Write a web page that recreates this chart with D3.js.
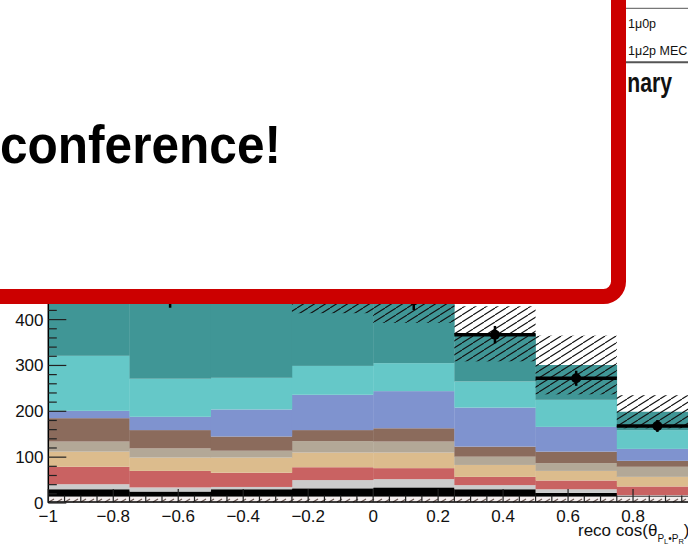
<!DOCTYPE html>
<html><head><meta charset="utf-8">
<script src="https://cdn.jsdelivr.net/npm/d3@7"></script>
<style>html,body{margin:0;padding:0;background:#fff;overflow:hidden}svg{display:block}</style>
</head><body>
<svg id="c" width="688" height="546"></svg>
<script>
// ---- data ----
const binEdges = [-1, -0.75, -0.5, -0.25, 0, 0.25, 0.5, 0.75, 1];
const seriesNames = ["dirt", "cosmic", "other", "1μ1p CCQE", "1μ1p MEC", "1μ1p RES", "1μ1p other", "1μ0p", "1μ2p MEC", "1μ2p other"];
const sHatchBottom = [14, 14, 14, 14, 14, 14, 14, 14];
const sBlack = [16, 11, 16, 18, 20, 16, 8, 2];
const sLightGray = [11, 9, 5, 18, 18, 9, 8, 1];
const sRed = [38, 36, 31, 28, 24, 18, 19, 19];
const sTan = [33, 29, 33, 32, 34, 26, 21, 21];
const sGrayBrown = [22, 20, 15, 25, 24, 18, 17, 22];
const sBrown = [51, 40, 31, 24, 29, 22, 25, 13];
const sBlue = [16, 29, 59, 77, 81, 85, 54, 26];
const sCyan = [120, 83, 69, 63, 61, 57, 59, 41];
const sTeal = [199, 239, 232, 181, 150, 104, 76, 40];
const dataVals = [458, 447, 470, 465, 442, 367, 272, 168];
const mcUnc = [75, 72, 68, 66, 62, 60, 64, 36];
const xTicks = [-1, -0.8, -0.6, -0.4, -0.2, 0, 0.2, 0.4, 0.6, 0.8];
const yTicks = [0, 100, 200, 300, 400];
const legendLabels = ["1μ0p", "1μ2p MEC"];

const colors = ["url(#hatchBottom)", "#000000", "#cbcbcb", "#c96262", "#dcbc8d", "#b3a897", "#8b6b5c", "#7f93cf", "#65c8c8", "#409696"];
const seriesVals = [sHatchBottom, sBlack, sLightGray, sRed, sTan, sGrayBrown, sBrown, sBlue, sCyan, sTeal];

const svg = d3.select("#c");
const FONT = "'Liberation Sans', Arial, Helvetica, sans-serif";

const x = d3.scaleLinear().domain([-1, 1]).range([48.3, 698]);
const y = d3.scaleLinear().domain([0, 600]).range([503, 503 - 600 * 0.4585]);

const defs = svg.append("defs");
const hb = defs.append("pattern").attr("id", "hatchBottom").attr("patternUnits", "userSpaceOnUse")
  .attr("width", 8).attr("height", 8);
hb.append("rect").attr("width", 8).attr("height", 8).attr("fill", "#f4eeee");
hb.append("path").attr("d", "M1,6 L6,3").attr("stroke", "#6d5a55").attr("stroke-width", 1.2);
const hu = defs.append("pattern").attr("id", "hatchUnc").attr("patternUnits", "userSpaceOnUse")
  .attr("width", 11).attr("height", 7);
hu.append("path").attr("d", "M-11,7 L0,0 M0,7 L11,0 M11,7 L22,0").attr("stroke", "#111").attr("stroke-width", 1.1);
defs.append("clipPath").attr("id", "rightOfBox").append("rect").attr("x", 628).attr("y", 0).attr("width", 80).attr("height", 120);

// ---- stacked histogram ----
const rows = d3.range(8).map(i => {
  const r = { i };
  seriesNames.forEach((n, k) => r[n] = seriesVals[k][i]);
  return r;
});
const stack = d3.stack().keys(seriesNames)(rows);
const gStack = svg.append("g");
stack.forEach((layer, k) => {
  gStack.selectAll(null).data(layer).enter().append("rect")
    .attr("x", d => x(binEdges[d.data.i]))
    .attr("width", d => x(binEdges[d.data.i + 1]) - x(binEdges[d.data.i]) + 0.3)
    .attr("y", d => y(d[1]))
    .attr("height", d => y(d[0]) - y(d[1]))
    .attr("fill", colors[k]);
});

// ---- MC uncertainty band ----
const totals = rows.map(r => d3.sum(seriesNames, n => r[n]));
svg.append("g").selectAll("rect").data(totals).enter().append("rect")
  .attr("x", (d, i) => x(binEdges[i]))
  .attr("width", (d, i) => x(binEdges[i + 1]) - x(binEdges[i]))
  .attr("y", (d, i) => y(d + mcUnc[i]))
  .attr("height", (d, i) => y(d - mcUnc[i]) - y(d + mcUnc[i]))
  .attr("fill", "url(#hatchUnc)");

// ---- axes ----
const gAx = svg.append("g").attr("stroke", "#000");
gAx.append("line").attr("x1", x(-1)).attr("x2", 700).attr("y1", y(0) - 1).attr("y2", y(0) - 1).attr("stroke-width", 1.5);
gAx.append("line").attr("x1", x(-1)).attr("x2", x(-1)).attr("y1", y(0)).attr("y2", 0).attr("stroke-width", 1.5);
d3.range(0, 601, 20).forEach(v => {
  const major = v % 100 === 0;
  gAx.append("line").attr("x1", x(-1)).attr("x2", x(-1) + (major ? 18 : 8.5))
    .attr("y1", y(v)).attr("y2", y(v)).attr("stroke-width", 1.2).attr("stroke", "#222");
});
d3.range(-1, 1.001, 0.05).forEach(v => {
  const major = Math.abs(Math.round(v * 5) - v * 5) < 1e-6;
  gAx.append("line").attr("x1", x(v)).attr("x2", x(v))
    .attr("y1", y(0) - 1).attr("y2", y(0) - 1 - (major ? 13 : 6.5)).attr("stroke-width", 1.2).attr("stroke", "#222");
});
const fmt = v => (v < 0 ? "\u2212" : "") + String(Math.abs(v));
svg.append("g").selectAll("text").data(yTicks).enter().append("text")
  .attr("x", 43.5).attr("y", d => y(d) + 6).attr("text-anchor", "end")
  .attr("font-family", FONT).attr("font-size", 17).attr("fill", "#111").text(d => d);
svg.append("g").selectAll("text").data(xTicks).enter().append("text")
  .attr("x", d => x(d)).attr("y", 522).attr("text-anchor", "middle")
  .attr("font-family", FONT).attr("font-size", 17).attr("fill", "#111").text(fmt);

const title = svg.append("text").attr("x", 578).attr("y", 536).attr("font-family", FONT).attr("font-size", 17).attr("fill", "#111");
title.append("tspan").text("reco cos(θ");
title.append("tspan").attr("font-size", 10).attr("dy", 5.5).text("P");
title.append("tspan").attr("font-size", 7.5).attr("dy", 2.5).text("L");
title.append("tspan").attr("font-size", 10).attr("dy", -2.5).text("•P");
title.append("tspan").attr("font-size", 7.5).attr("dy", 2.5).text("R");
title.append("tspan").attr("font-size", 17).attr("dy", -8).text(")");

// ---- data points ----
const gData = svg.append("g");
dataVals.forEach((v, i) => {
  const cx = (x(binEdges[i]) + x(binEdges[i + 1])) / 2;
  const e = Math.sqrt(v);
  gData.append("line").attr("x1", x(binEdges[i])).attr("x2", x(binEdges[i + 1]))
    .attr("y1", y(v)).attr("y2", y(v)).attr("stroke", "#000").attr("stroke-width", 3.5);
  gData.append("line").attr("x1", cx).attr("x2", cx).attr("y1", y(v - e)).attr("y2", y(v + e))
    .attr("stroke", "#000").attr("stroke-width", 2.5);
  gData.append("circle").attr("cx", cx).attr("cy", y(v)).attr("r", 5).attr("fill", "#000");
});

// ---- legend (partly hidden) ----
const gLeg = svg.append("g");
gLeg.append("line").attr("x1", 560).attr("x2", 688).attr("y1", 8.3).attr("y2", 8.3).attr("stroke", "#777").attr("stroke-width", 1.2);
gLeg.append("line").attr("x1", 560).attr("x2", 688).attr("y1", 62.3).attr("y2", 62.3).attr("stroke", "#555").attr("stroke-width", 2);
gLeg.selectAll("text").data(legendLabels).enter().append("text")
  .attr("x", 628).attr("y", (d, i) => 28.3 + i * 26.5)
  .attr("font-family", FONT).attr("font-size", 12.5).attr("fill", "#111").text(d => d);
svg.append("g").attr("clip-path", "url(#rightOfBox)").append("text")
  .attr("transform", "translate(672,91.7) scale(0.77,1)")
  .attr("text-anchor", "end").attr("font-family", FONT).attr("font-weight", "bold")
  .attr("font-size", 27.5).attr("fill", "#111").text("MicroBooNE Preliminary");

// ---- red callout box ----
svg.append("rect").attr("x", -100).attr("y", -100).attr("width", 718.5).attr("height", 396.5)
  .attr("rx", 15).attr("ry", 15).attr("fill", "#fff").attr("stroke", "#cc0000").attr("stroke-width", 15);
svg.append("text").attr("transform", "translate(281,163) scale(1,1.1)")
  .attr("text-anchor", "end").attr("font-family", FONT).attr("font-weight", "bold")
  .attr("font-size", 49.6).attr("fill", "#000").text("conference!");
</script>
</body></html>
